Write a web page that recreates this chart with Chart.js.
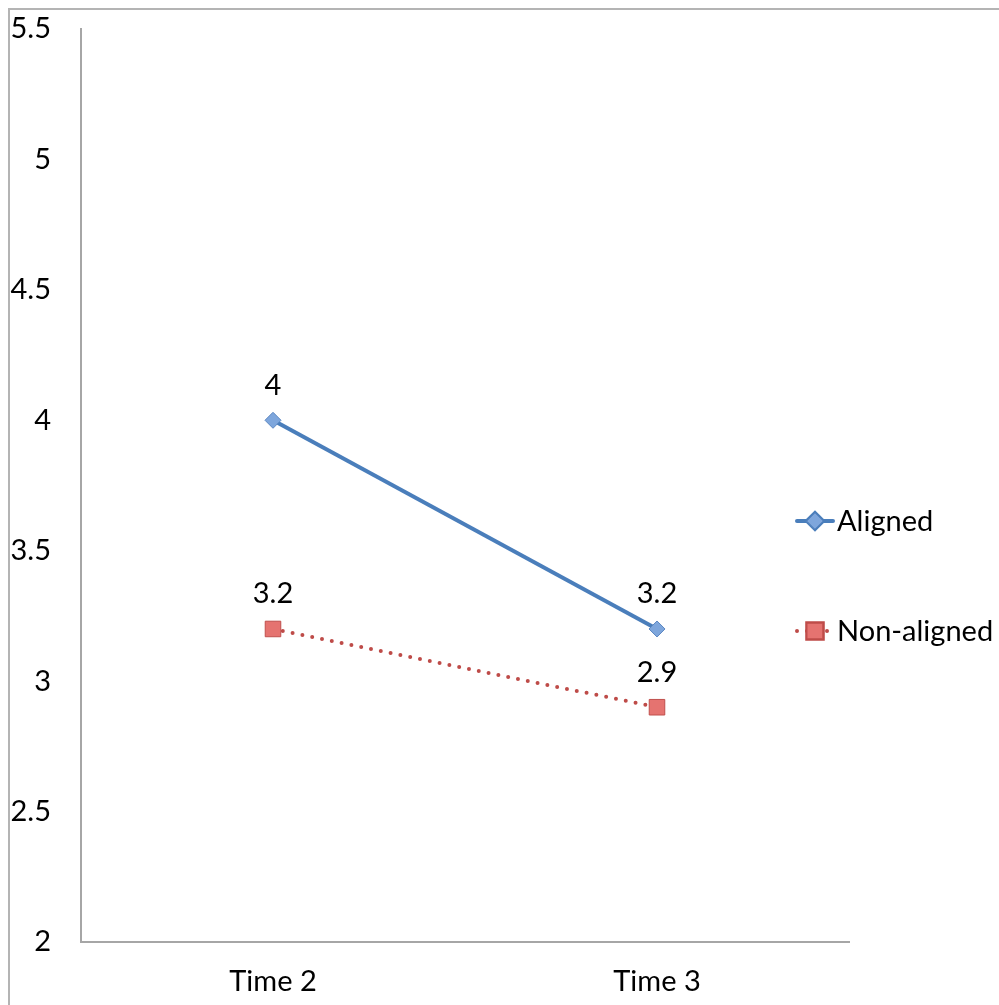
<!DOCTYPE html>
<html>
<head>
<meta charset="utf-8">
<script src="https://cdn.jsdelivr.net/npm/chart.js@4"></script>
<style>
  html, body { margin: 0; padding: 0; background: #fff; }
  #wrap { position: relative; width: 999px; height: 1005px; }
  #frame { position: absolute; left: 8px; top: 8px; right: 0; bottom: 0;
           border-top: 2px solid #b4b4b4; border-left: 2px solid #b4b4b4; }
  canvas { position: absolute; left: 0; top: 0; }
</style>
</head>
<body>
<div id="wrap">
  <div id="frame"></div>
  <canvas id="myChart" width="999" height="1005"></canvas>
</div>
<script>
'use strict';

let times = ['Time 2', 'Time 3'];
let alignedScores = [4, 3.2];
let nonAlignedScores = [3.2, 2.9];
let seriesNames = ['Aligned', 'Non-aligned'];

let fontFamily = 'Lato, "Open Sans", sans-serif';
let fontSize = 29;
let blue = '#4a7ebb';
let red = '#be4b48';

// value labels over each point
const valueLabels = {
  id: 'valueLabels',
  afterDatasetsDraw(chart) {
    let ctx = chart.ctx;
    ctx.save();
    ctx.font = fontSize + 'px ' + fontFamily;
    ctx.fillStyle = '#000';
    ctx.textAlign = 'center';
    ctx.textBaseline = 'middle';
    chart.data.datasets.forEach((ds, i) => {
      chart.getDatasetMeta(i).data.forEach((pt, j) => {
        ctx.fillText(String(ds.data[j]), pt.x, pt.y - 35);
      });
    });
    ctx.restore();
  },
};

// legend on the right with wide row spacing
const sideLegend = {
  id: 'sideLegend',
  afterDraw(chart) {
    let ctx = chart.ctx;
    let rows = [521, 631];
    ctx.save();
    chart.data.datasets.forEach((ds, i) => {
      let y = rows[i];
      ctx.strokeStyle = ds.borderColor;
      ctx.lineWidth = ds.borderWidth;
      ctx.lineCap = 'round';
      ctx.setLineDash(ds.borderDash || []);
      ctx.beginPath();
      ctx.moveTo(797, y);
      ctx.lineTo(833, y);
      ctx.stroke();
      ctx.setLineDash([]);
      Chart.helpers.drawPoint(ctx, {
        pointStyle: ds.pointStyle,
        radius: ds.pointRadius,
        borderWidth: 1,
        rotation: 0,
      }, 815, y);
      ctx.fillStyle = ds.pointBackgroundColor;
      ctx.strokeStyle = ds.pointBorderColor;
      ctx.lineWidth = 1;
      ctx.fill();
      ctx.stroke();
      ctx.fillStyle = '#000';
      ctx.font = fontSize + 'px ' + fontFamily;
      ctx.textAlign = 'left';
      ctx.textBaseline = 'middle';
      ctx.fillText(seriesNames[i], 837, y + 1);
    });
    ctx.restore();
  },
};

const chartData = {
  labels: times,
  datasets: [
    {
      label: seriesNames[0],
      data: alignedScores,
      borderColor: blue,
      borderWidth: 4,
      pointStyle: 'rectRot',
      pointRadius: 8,
      pointBackgroundColor: '#7ea6dc',
      pointBorderColor: '#5b87c2',
      pointBorderWidth: 1,
    },
    {
      label: seriesNames[1],
      data: nonAlignedScores,
      borderColor: red,
      borderWidth: 4,
      borderDash: [0, 10],
      borderCapStyle: 'round',
      pointStyle: 'rect',
      pointRadius: 11,
      pointBackgroundColor: '#e57370',
      pointBorderColor: '#c0504d',
      pointBorderWidth: 1,
    },
  ],
};

const config = {
  type: 'line',
  data: chartData,
  options: {
    responsive: false,
    animation: false,
    layout: { padding: { top: 29, right: 150, left: 0, bottom: 0 } },
    plugins: { legend: { display: false }, tooltip: { enabled: false } },
    scales: {
      x: {
        offset: true,
        grid: { display: false, drawTicks: false },
        border: { display: true, color: '#a6a6a6', width: 2 },
        ticks: { color: '#000', padding: 22, font: { family: fontFamily, size: fontSize } },
        afterFit(scale) { scale.height = 63; },
      },
      y: {
        min: 2,
        max: 5.5,
        grid: { display: false, drawTicks: false },
        border: { display: true, color: '#a6a6a6', width: 2 },
        ticks: {
          stepSize: 0.5,
          color: '#000',
          padding: 30,
          font: { family: fontFamily, size: fontSize },
          callback: (value) => String(Math.round(value * 10) / 10),
        },
        afterFit(scale) {
          scale.width = 81;
          scale.paddingTop = 0;
          scale.paddingBottom = 0;
        },
      },
    },
  },
  plugins: [valueLabels, sideLegend],
};

let chartCanvas = document.getElementById('myChart').getContext('2d');
const myChart = new Chart(chartCanvas, config);
</script>
</body>
</html>
